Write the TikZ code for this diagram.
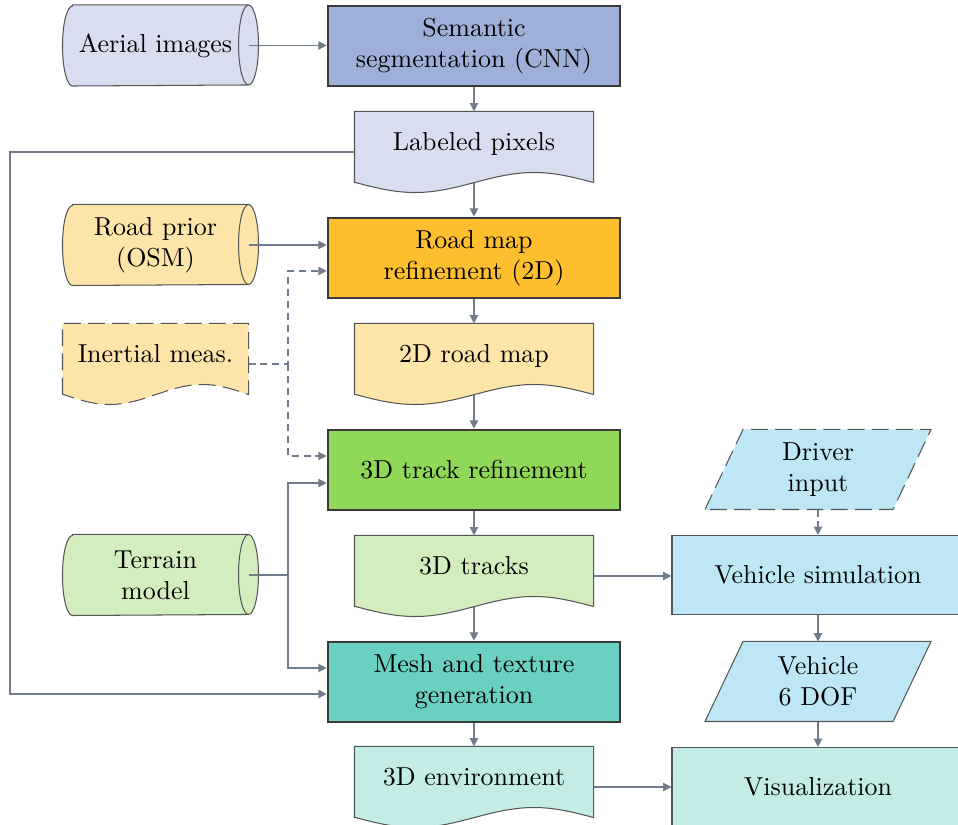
\documentclass[tikz,border=0pt]{standalone}
\usetikzlibrary{arrows.meta,calc}

% one drawing unit = 0.385pt
\def\pxu{0.385pt}

\definecolor{lavlight}{HTML}{D9DDF0}
\definecolor{lavstrong}{HTML}{9EAFD9}
\definecolor{orlight}{HTML}{FDE4A9}
\definecolor{orstrong}{HTML}{FDBF2D}
\definecolor{grlight}{HTML}{D4EDBF}
\definecolor{grstrong}{HTML}{8FD858}
\definecolor{tllight}{HTML}{C4ECE6}
\definecolor{tlstrong}{HTML}{6AD0C2}
\definecolor{bllight}{HTML}{BDE7F5}
\definecolor{thinedge}{HTML}{555555}
\definecolor{thickedge}{HTML}{3B3B3B}
\definecolor{wire}{HTML}{707C8C}

\pgfdeclarelayer{back}
\pgfsetlayers{back,main}

% document symbol with a wavy lower edge (#3 = quarter of the width)
\newcommand\docoutline[3]{%
  \path[#1] ($(#2.south west)+(0,-10)$) -- (#2.north west) -- (#2.north east)
    -- ($(#2.south east)+(0,-10)$)
    sin ++(-#3,-10) cos ++(-#3,10) sin ++(-#3,10) cos ++(-#3,-10) -- cycle;}
% stored-data cylinder lying on its side
\newcommand\cyloutline[2]{%
  \path[#1] ($(#2.north west)+(10,0)$) -- (#2.north east)
    arc[start angle=-90, end angle=90, x radius=10, y radius=40]
    -- ($(#2.south west)+(10,0)$)
    arc[start angle=90, end angle=270, x radius=10, y radius=40] -- cycle;
  \draw[thinedge, line width=0.4pt] (#2.north east)
    arc[start angle=270, end angle=90, x radius=10, y radius=40];}
% slanted input/output symbol
\newcommand\paraoutline[2]{%
  \path[#1] (#2.south west) -- ($(#2.north west)+(38,0)$) -- (#2.north east)
    -- ($(#2.south east)+(-38,0)$) -- cycle;}

\begin{document}
\begin{tikzpicture}[x=0.385pt, y=-0.385pt,
  procbox/.style={rectangle, draw=thickedge, line width=1pt,
    minimum width={292*\pxu}, minimum height={80*\pxu}, align=center, inner sep=0pt},
  plainbox/.style={rectangle, draw=thinedge, line width=0.4pt,
    minimum width={292*\pxu}, minimum height={79*\pxu}, align=center, inner sep=0pt},
  docnode/.style={rectangle, minimum width={238*\pxu}, minimum height={80*\pxu},
    text height=7pt, text depth=7.9pt, inner sep=0pt},
  cylnode/.style={rectangle, minimum width={185*\pxu}, minimum height={80*\pxu},
    align=center, inner sep=0pt},
  paranode/.style={rectangle, minimum width={225*\pxu}, minimum height={79*\pxu},
    align=center, inner sep=0pt},
  edge/.style={draw=thinedge, line width=0.4pt},
  dashedge/.style={edge, dash pattern=on 6.5pt off 2.8pt},
  conn/.style={draw=wire, line width=0.45pt, -{Triangle[length=3.2pt,width=3.2pt]}},
  dconn/.style={conn, dash pattern=on 2.7pt off 1.9pt},
]
\useasboundingbox (0,0) rectangle (958,825);

% ---- centre column
\node[procbox, fill=lavstrong] (sem) at (474,46) {Semantic\\segmentation (CNN)};
\node[docnode] (lp) at (474,152) {Labeled pixels};
\node[procbox, fill=orstrong] (rm) at (474,258) {Road map\\refinement (2D)};
\node[docnode] (map) at (474,364) {2D road map};
\node[procbox, fill=grstrong] (tref) at (474,470) {3D track refinement};
\node[docnode] (trk) at (474,576) {3D tracks};
\node[procbox, fill=tlstrong] (mesh) at (474,682) {Mesh and texture\\generation};
\node[docnode] (env) at (474,787) {3D environment};

% ---- left column
\node[cylnode] (ai) at (155.5,45.5) {Aerial images};
\node[cylnode] (rp) at (155.5,245) {Road prior\\(OSM)};
\node[docnode, minimum width={185*\pxu}] (im) at (155.5,364) {Inertial meas.};
\node[cylnode] (ter) at (155.5,575) {Terrain\\model};

% ---- right column
\node[paranode] (drv) at (818,469.5) {Driver\\input};
\node[plainbox, fill=bllight] (vsim) at (818,575) {Vehicle simulation};
\node[paranode] (dof) at (818,681.5) {Vehicle\\6 DOF};
\node[plainbox, fill=tllight] (vis) at (818,787) {Visualization};

\begin{pgfonlayer}{back}
  \docoutline{edge, fill=lavlight}{lp}{59.5}
  \docoutline{edge, fill=orlight}{map}{59.5}
  \docoutline{edge, fill=grlight}{trk}{59.5}
  \docoutline{edge, fill=tllight}{env}{59.5}
  \docoutline{dashedge, fill=orlight}{im}{46.25}
  \cyloutline{edge, fill=lavlight}{ai}
  \cyloutline{edge, fill=orlight}{rp}
  \cyloutline{edge, fill=grlight}{ter}
  \paraoutline{dashedge, fill=bllight}{drv}
  \paraoutline{edge, fill=bllight}{dof}
\end{pgfonlayer}

% ---- connectors
\coordinate (lx) at (10,0);
\coordinate (jx) at (288,0);

\draw[conn] (ai.east) -- (ai.east -| sem.west);
\draw[conn] (sem.south) -- (lp.north);
\draw[conn] ($(lp.south)+(0,-10)$) -- (rm.north);
\draw[conn] (rp.east) -- (rp.east -| rm.west);
\draw[conn] (rm.south) -- (map.north);
\draw[conn] ($(map.south)+(0,-10)$) -- (tref.north);
\draw[conn] (tref.south) -- (trk.north);
\draw[conn] ($(trk.south)+(0,-10)$) -- (mesh.north);
\draw[conn] (mesh.south) -- (env.north);
\draw[conn] (trk.east) -- (trk.east -| vsim.west);
\draw[conn] (env.east) -- (env.east -| vis.west);
\draw[dconn] (drv.south) -- (vsim.north);
\draw[conn] (vsim.south) -- (dof.north);
\draw[conn] (dof.south) -- (vis.north);

\draw[conn] (lp.west) -- (lp.west -| lx) |- ($(mesh.west)+(0,12)$);
\draw[conn] (ter.east) -- (ter.east -| jx) |- ($(tref.west)+(0,13)$);
\draw[conn] (ter.east -| jx) |- ($(mesh.west)+(0,-14)$);
\draw[dconn] (im.east) -- (im.east -| jx) |- ($(rm.west)+(0,13)$);
\draw[dconn] (im.east -| jx) |- ($(tref.west)+(0,-14)$);
\end{tikzpicture}
\end{document}
